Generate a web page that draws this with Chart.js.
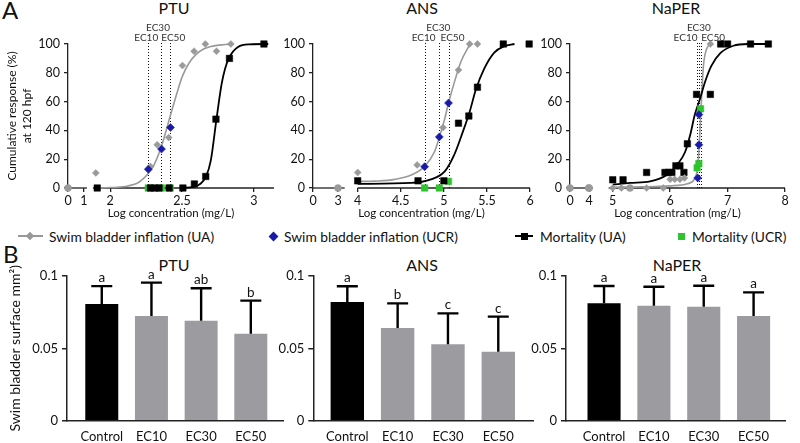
<!DOCTYPE html>
<html><head><meta charset="utf-8">
<script src="https://cdn.jsdelivr.net/npm/chart.js@4.4.1/dist/chart.umd.min.js"></script>
<style>
body{margin:0;background:#fff;font-family:Lato,sans-serif;color:#111;}
#wrap{position:relative;width:800px;height:443px;overflow:hidden;background:#fff;}
canvas{position:absolute;}
.tt{position:absolute;transform:translateX(-50%);white-space:nowrap;font-size:16px;line-height:16px;}
.lt{position:absolute;font-size:24px;line-height:24px;}
.leg{position:absolute;top:228px;height:16px;display:flex;align-items:center;font-size:13.8px;white-space:nowrap;}
.sym{position:relative;display:inline-block;height:16px;margin-right:6px;}
</style></head><body><div id="wrap">
<div class="lt" style="left:2px;top:-2px">A</div>
<div class="lt" style="left:3px;top:242px">B</div>
<div class="tt" style="left:174px;top:0px">PTU</div>
<div class="tt" style="left:422px;top:0px">ANS</div>
<div class="tt" style="left:676px;top:0px">NaPER</div>
<div class="tt" style="left:174px;top:257px">PTU</div>
<div class="tt" style="left:422px;top:257px">ANS</div>
<div class="tt" style="left:677px;top:257px">NaPER</div>

<div class="leg" style="left:18px"><span class="sym" style="width:25px"><span style="position:absolute;left:0;top:7px;width:25px;height:2px;background:#999"></span><span style="position:absolute;left:9px;top:4.5px;width:6px;height:6px;background:#999;transform:rotate(45deg)"></span></span>Swim bladder inflation (UA)</div>
<div class="leg" style="left:268px"><span class="sym" style="width:10px"><span style="position:absolute;left:1.5px;top:4.5px;width:7px;height:7px;background:#1a1aa8;transform:rotate(45deg)"></span></span>Swim bladder inflation (UCR)</div>
<div class="leg" style="left:515px"><span class="sym" style="width:18px;margin-right:7px"><span style="position:absolute;left:0;top:7px;width:18px;height:2px;background:#000"></span><span style="position:absolute;left:5.5px;top:4.5px;width:7px;height:7px;background:#000"></span></span>Mortality (UA)</div>
<div class="leg" style="left:677px"><span class="sym" style="width:9px"><span style="position:absolute;left:1px;top:4.5px;width:7px;height:7px;background:#2ec42e"></span></span>Mortality (UCR)</div>

<canvas id="a1" width="282" height="224" style="left:0;top:0"></canvas>
<canvas id="a2" width="260" height="224" style="left:280px;top:0"></canvas>
<canvas id="a3" width="264" height="224" style="left:536px;top:0"></canvas>
<canvas id="b1" width="286" height="193" style="left:0;top:250px"></canvas>
<canvas id="b2" width="266" height="193" style="left:274px;top:250px"></canvas>
<canvas id="b3" width="274" height="193" style="left:526px;top:250px"></canvas>
</div>
<script>
// ---------------- DATA : panel A (dose-response) ----------------
const ecLabels = ['EC10', 'EC30', 'EC50'];

const ptuTicks = [0, 1, 2, 2.5, 3];
const ptuEC = [2.265, 2.357, 2.418];
const ptuControls = [[0, 0]];
const ptuUA = [[1.9, 10.5], [2.28, 15], [2.327, 30], [2.407, 35], [2.503, 85], [2.584, 95], [2.662, 100], [2.74, 95], [2.84, 100]];
const ptuUCR = [[2.265, 13], [2.357, 27], [2.42, 42]];
const ptuMort = [[1.91, 0], [2.28, 0], [2.31, 0], [2.34, 0], [2.41, 0], [2.506, 0], [2.586, 2.8], [2.665, 8], [2.736, 47.8], [2.83, 90], [3.07, 100]];
const ptuMortUCR = [[2.265, 0], [2.357, 0], [2.418, 0]];
const ptuUACurve = [[1.9, 0], [2.0, 0.3], [2.1, 1], [2.2, 4], [2.265, 10], [2.3, 15], [2.357, 29], [2.418, 50], [2.465, 66], [2.5, 77], [2.55, 87], [2.6, 93], [2.65, 96.5], [2.7, 98.3], [2.8, 99.6], [2.86, 100]];
const ptuMortCurve = [[2.5, 0], [2.58, 0.8], [2.626, 2.8], [2.667, 8], [2.7, 19], [2.74, 48], [2.775, 72], [2.8, 83], [2.83, 91], [2.89, 98], [2.97, 99.8], [3.1, 100]];

const ansTicks = [0, 3, 4, 4.5, 5, 5.5, 6];
const ansEC = [4.777, 4.947, 5.054];
const ansControls = [[3, 0]];
const ansUA = [[4.0, 10.8], [4.69, 16], [4.99, 42], [5.17, 82], [5.3, 100], [5.39, 100]];
const ansUCR = [[4.777, 14.8], [4.947, 35.5], [5.054, 59]];
const ansMort = [[4.0, 5], [4.70, 5], [5.0, 5], [5.17, 45], [5.29, 50], [5.39, 70], [5.69, 100], [5.99, 100]];
const ansMortUCR = [[4.777, 0], [4.947, 0], [5.054, 4.6]];
const ansUACurve = [[4.0, 4.5], [4.2, 4.8], [4.43, 6], [4.62, 9], [4.777, 15], [4.89, 25], [4.947, 35], [5.01, 48], [5.054, 59], [5.12, 73], [5.2, 88], [5.3, 99.5]];
const ansMortCurve = [[4.0, 2.8], [4.62, 3.5], [4.85, 6], [5.01, 11.5], [5.12, 23], [5.22, 39], [5.3, 53], [5.37, 68], [5.47, 83], [5.585, 94], [5.7, 98.5], [5.82, 100]];

const naperTicks = [0, 4, 5, 6, 7, 8];
const naperEC = [6.46, 6.50, 6.54];
const naperControls = [[0, 0], [3.9, 0], [4.0, 0], [5.3, 0]];
const naperUA = [[5.0, 0], [5.15, 0], [5.59, 0], [5.88, 0], [6.0, 6], [6.08, 6], [6.17, 6], [6.25, 7], [6.7, 100]];
const naperUCR = [[6.48, 7], [6.5, 30], [6.5, 51]];
const naperMort = [[5.0, 5.7], [5.18, 5.7], [5.59, 10.8], [5.91, 10.8], [5.97, 10.8], [6.03, 10.8], [6.1, 15.4], [6.17, 15.4], [6.24, 10.8], [6.3, 30.7], [6.46, 65], [6.7, 65], [6.88, 100], [7.0, 100], [7.4, 100], [7.71, 100]];
const naperMortUCR = [[6.47, 14], [6.5, 17], [6.53, 55]];
const naperUACurve = [[5.0, 0.5], [5.5, 0.8], [6.0, 1.5], [6.3, 3], [6.42, 6], [6.48, 15], [6.52, 40], [6.55, 65], [6.58, 85], [6.63, 96], [6.7, 100]];
const naperMortCurve = [[5.0, 2.3], [5.3, 3.5], [5.65, 4.6], [5.94, 9], [6.12, 16], [6.26, 25], [6.35, 37], [6.43, 51], [6.52, 62], [6.61, 74], [6.72, 85], [6.87, 93.5], [7.1, 98.8], [7.35, 100], [7.71, 100]];

// ---------------- DATA : panel B (bars) ----------------
const barCategories = ['Control', 'EC10', 'EC30', 'EC50'];
const barYTicks = [0, 0.05, 0.1];
const barYTickLabels = ['0', '0.05', '0.1'];
const ptuBarMean = [0.0807, 0.0723, 0.0691, 0.0601];
const ptuBarSD = [0.0123, 0.0231, 0.0224, 0.0229];
const ptuBarLetters = ['a', 'a', 'ab', 'b'];
const ansBarMean = [0.082, 0.064, 0.0528, 0.0477];
const ansBarSD = [0.0109, 0.0171, 0.0214, 0.0242];
const ansBarLetters = ['a', 'b', 'c', 'c'];
const naperBarMean = [0.0811, 0.0795, 0.0788, 0.0723];
const naperBarSD = [0.012, 0.0131, 0.0145, 0.0164];
const naperBarLetters = ['a', 'a', 'a', 'a'];

// ---------------- STYLE ----------------
const GRAY = '#9a9a9a', BLACK = '#000', BLUE = '#1a1aa8', GREEN = '#2ec42e', AXIS = '#222';
const BAR_COLORS = ['#000', '#9c9ca0', '#9c9ca0', '#9c9ca0'];
Chart.defaults.font.family = 'Lato, sans-serif';
Chart.defaults.color = '#111';

// Broken (two-segment) linear axis
const BROKEN = {};
class BrokenScale extends Chart.LinearScale {
  brk() { return BROKEN[this.chart.canvas.id]; }
  buildTicks() { return this.brk().ticks.map(v => ({ value: v })); }
  getPixelForValue(v) {
    const s = this.brk().segments;
    const g = v <= (s[0].max + s[1].min) / 2 ? s[0] : s[1];
    return this.getPixelForDecimal(g.from + (v - g.min) / (g.max - g.min) * (g.to - g.from));
  }
  getValueForPixel(p) {
    const s = this.brk().segments;
    const d = this.getDecimalForPixel(p);
    const g = d < s[1].from ? s[0] : s[1];
    return g.min + (d - g.from) / (g.to - g.from) * (g.max - g.min);
  }
}
BrokenScale.id = 'broken';
BrokenScale.defaults = {};
Chart.register(BrokenScale);

function curveDS(data, color, w) {
  return { data, showLine: true, pointRadius: 0, borderColor: color, borderWidth: w, cubicInterpolationMode: 'monotone', fill: false, clip: false };
}
function ptDS(data, color, style, r) {
  return { data, showLine: false, pointStyle: style, pointRadius: r, pointBackgroundColor: color, pointBorderColor: color, pointBorderWidth: 0.5, clip: false };
}

function makeA(p) {
  BROKEN[p.id] = { segments: p.segments, ticks: p.ticks };
  const segPlugin = {
    id: 'seg' + p.id,
    beforeDatasetsDraw(chart) {
      const x = chart.scales.x, y = chart.scales.y, c = chart.ctx;
      const yb = y.getPixelForValue(0);
      c.save(); c.strokeStyle = AXIS; c.lineWidth = 1.3;
      p.segments.forEach(g => {
        c.beginPath(); c.moveTo(x.getPixelForValue(g.min), yb); c.lineTo(x.getPixelForValue(g.max), yb); c.stroke();
      });
      // EC dotted lines
      c.strokeStyle = '#111'; c.lineWidth = 1; c.setLineDash([1, 2]);
      const yt = y.getPixelForValue(100);
      p.ec.forEach(v => {
        const px = Math.round(x.getPixelForValue(v)) + 0.5;
        c.beginPath(); c.moveTo(px, yb); c.lineTo(px, yt - 1); c.stroke();
      });
      c.setLineDash([]);
      c.fillStyle = '#333'; c.font = '10px Lato, sans-serif'; c.textBaseline = 'alphabetic'; c.textAlign = 'center';
      p.ec.forEach((v, i) => {
        c.fillText(ecLabels[i], x.getPixelForValue(v) + p.ecShift[i], i === 1 ? yt - 13 : yt - 3);
      });
      c.restore();
    }
  };
  new Chart(document.getElementById(p.id), {
    type: 'scatter',
    data: { datasets: [
      ptDS(p.ucr, BLUE, 'rectRot', 4),
      ptDS(p.ua, GRAY, 'rectRot', 3.5),
      ptDS(p.controls, GRAY, 'circle', 3.5),
      ptDS(p.mort, BLACK, 'rect', 4.6),
      ptDS(p.mortUCR, GREEN, 'rect', 4.6),
      curveDS(p.mortCurve, BLACK, 1.8),
      curveDS(p.uaCurve, GRAY, 1.6)
    ] },
    options: {
      responsive: false, animation: false, events: [],
      layout: { padding: { top: 44, left: 0, right: p.padR, bottom: 0 } },
      plugins: { legend: { display: false }, tooltip: { enabled: false } },
      scales: {
        x: {
          type: 'broken', min: p.segments[0].min, max: p.segments[1].max,
          ticks: { callback: v => String(v), font: { size: 12.5 }, color: '#111', padding: 1, maxRotation: 0, autoSkip: false },
          grid: { display: true, drawOnChartArea: false, tickLength: 4, color: AXIS, lineWidth: 1.3 },
          border: { display: false },
          title: { display: true, text: 'Log concentration (mg/L)', font: { size: 11.5 }, color: '#111', padding: { top: 0, bottom: 4 } },
          afterFit: s => { s.height = 36; }
        },
        y: {
          min: 0, max: 100,
          ticks: { stepSize: 20, font: { size: 12.5 }, color: '#111', padding: 4 },
          grid: { display: true, drawOnChartArea: false, tickLength: 4, color: AXIS, lineWidth: 1.3 },
          border: { display: true, color: AXIS, width: 1.3 },
          title: p.yTitle ? { display: true, text: p.yTitle, font: { size: 12, lineHeight: 1.3 }, color: '#111', padding: { top: 4, bottom: 0 } } : { display: false },
          afterFit: s => { s.width = p.yW; }
        }
      }
    },
    plugins: [segPlugin]
  });
}

makeA({ id: 'a1', ticks: ptuTicks, ec: ptuEC, ecShift: [-2, -3.5, 3], padR: 8, yW: 68,
  segments: [{ min: 0, max: 1.2, from: 0, to: 0.092 }, { min: 1.88, max: 3.14, from: 0.121, to: 1 }],
  yTitle: ['Cumulative response (%)', 'at 120 hpf'],
  controls: ptuControls, ua: ptuUA, ucr: ptuUCR, mort: ptuMort, mortUCR: ptuMortUCR, uaCurve: ptuUACurve, mortCurve: ptuMortCurve });
makeA({ id: 'a2', ticks: ansTicks, ec: ansEC, ecShift: [-1, -1, 4], padR: 10, yW: 33,
  segments: [{ min: 0, max: 3.8, from: 0, to: 0.146 }, { min: 4, max: 6, from: 0.206, to: 1 }],
  controls: ansControls, ua: ansUA, ucr: ansUCR, mort: ansMort, mortUCR: ansMortUCR, uaCurve: ansUACurve, mortCurve: ansMortCurve });
makeA({ id: 'a3', ticks: naperTicks, ec: naperEC, ecShift: [-11, 0, 12], padR: 15, yW: 34,
  segments: [{ min: 0, max: 4.8, from: 0, to: 0.107 }, { min: 4.93, max: 8, from: 0.18, to: 1 }],
  controls: naperControls, ua: naperUA, ucr: naperUCR, mort: naperMort, mortUCR: naperMortUCR, uaCurve: naperUACurve, mortCurve: naperMortCurve });

function makeB(p) {
  const errPlugin = {
    id: 'err' + p.id,
    afterDatasetsDraw(chart) {
      const c = chart.ctx, y = chart.scales.y;
      const meta = chart.getDatasetMeta(0);
      c.save(); c.strokeStyle = '#000'; c.lineWidth = 2.4; c.fillStyle = '#111';
      c.font = '13.5px Lato, sans-serif'; c.textAlign = 'center'; c.textBaseline = 'alphabetic';
      meta.data.forEach((bar, i) => {
        const top = y.getPixelForValue(p.mean[i] + p.sd[i]);
        c.beginPath(); c.moveTo(bar.x, bar.y); c.lineTo(bar.x, top);
        c.moveTo(bar.x - 10.5, top); c.lineTo(bar.x + 10.5, top); c.stroke();
        c.fillText(p.letters[i], bar.x, top - 4);
      });
      c.restore();
    }
  };
  new Chart(document.getElementById(p.id), {
    type: 'bar',
    data: { datasets: [{ data: p.mean.map((m, i) => ({ x: i, y: m })), backgroundColor: BAR_COLORS, borderWidth: 0, barPercentage: 0.83, categoryPercentage: 0.8 }] },
    options: {
      responsive: false, animation: false, events: [],
      layout: { padding: { top: 26, left: 0, right: p.padR, bottom: 0 } },
      plugins: { legend: { display: false }, tooltip: { enabled: false } },
      scales: {
        x: {
          type: 'linear', min: p.xMin, max: p.xMax, offset: false,
          afterBuildTicks: s => { s.ticks = barCategories.map((c, i) => ({ value: i })); },
          ticks: { callback: v => barCategories[v], font: { size: 13 }, color: '#111', padding: 0, maxRotation: 0, autoSkip: false },
          grid: { display: false },
          border: { display: true, color: AXIS, width: 1.5 },
          afterFit: s => { s.height = 22.3; }
        },
        y: {
          min: 0, max: 0.1,
          afterBuildTicks: s => { s.ticks = barYTicks.map(v => ({ value: v })); },
          ticks: { callback: (v, i) => barYTickLabels[i], font: { size: 13 }, color: '#111', padding: 4 },
          grid: { display: true, drawOnChartArea: false, tickLength: 5, color: AXIS, lineWidth: 1.5 },
          border: { display: true, color: AXIS, width: 1.5 },
          title: p.yTitle ? { display: true, text: p.yTitle, font: { size: 14 }, color: '#111', padding: { top: 7, bottom: 0 } } : { display: false },
          afterFit: s => { s.width = p.yW; }
        }
      }
    },
    plugins: [errPlugin]
  });
}

makeB({ id: 'b1', mean: ptuBarMean, sd: ptuBarSD, letters: ptuBarLetters, xMin: -0.7, xMax: 3.66, yW: 67, padR: 2.4, yTitle: 'Swim bladder surface mm²)' });
makeB({ id: 'b2', mean: ansBarMean, sd: ansBarSD, letters: ansBarLetters, xMin: -0.676, xMax: 3.69, yW: 39.3, padR: 7 });
makeB({ id: 'b3', mean: naperBarMean, sd: naperBarSD, letters: naperBarLetters, xMin: -0.763, xMax: 3.63, yW: 40, padR: 15 });
</script>
</body></html>
